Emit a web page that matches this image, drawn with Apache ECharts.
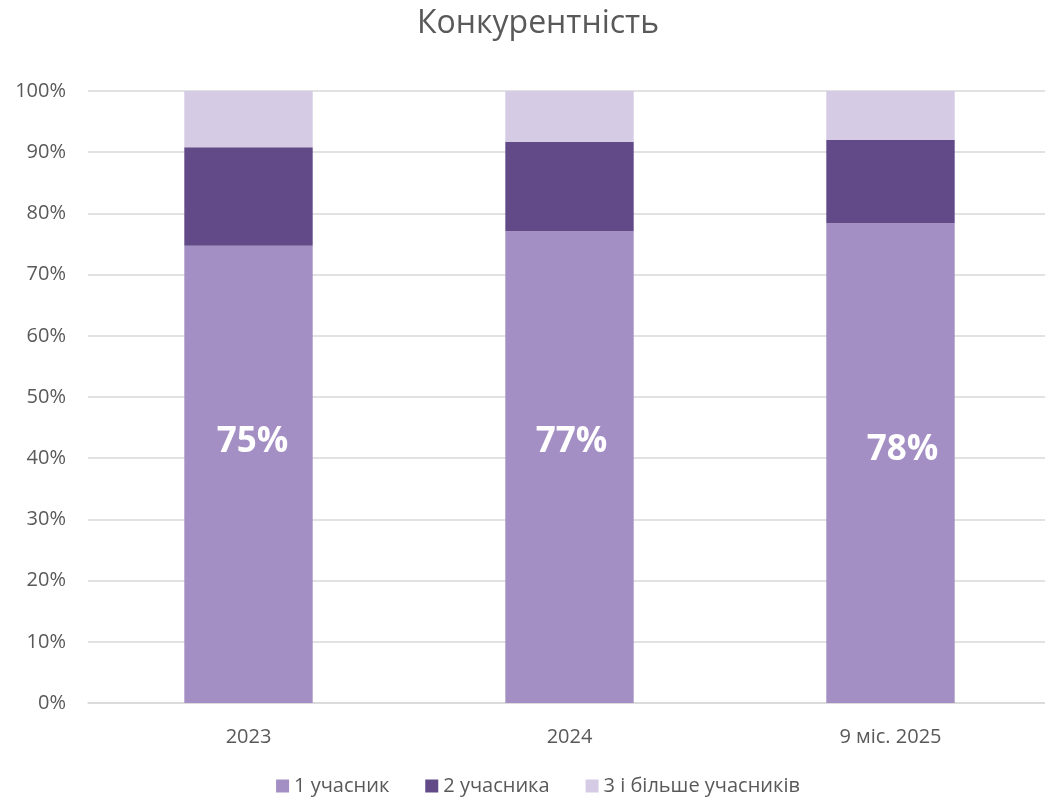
<!doctype html>
<html lang="uk">
<head>
    <meta charset="UTF-8">
    <title>Конкурентність</title>
    <style>
        html, body { margin: 0; padding: 0; background: #fff; overflow: hidden; }
        #chart { width: 1076px; height: 799px; }
    </style>
</head>
<body>
<div id="chart"></div>
<script src="https://cdn.jsdelivr.net/npm/echarts@6/dist/echarts.min.js"></script>
<script type="text/javascript">
    // дані
    var categories = ["2023", "2024", "9 міс. 2025"];
    var one_bidder = [74.7, 77.1, 78.4];
    var two_bidders = [16.1, 14.6, 13.6];
    var three_plus = [9.2, 8.3, 8.0];
    var one_labels = ["75%", "77%", "78%"];
    var series_names = ["1 учасник", "2 учасника", "3 і більше учасників"];

    var chart = echarts.init(document.getElementById('chart'));
    var font = "'Open Sans', 'Noto Sans', sans-serif";

    // зсуви підписів (як у оригіналі, не по центру)
    var label_nudge = [[4, -32], [2, -25], [12, -13]];

    var first_data = [];
    for (var i = 0; i < one_bidder.length; i++) {
        first_data.push({
            value: one_bidder[i],
            label: { offset: label_nudge[i], formatter: one_labels[i] }
        });
    }

    var option = {
        backgroundColor: '#fff',
        textStyle: { fontFamily: font },
        title: {
            text: 'Конкурентність',
            left: 'center',
            top: 3,
            textStyle: { fontFamily: font, fontSize: 32, fontWeight: 'normal', color: '#595959' }
        },
        legend: {
            data: series_names,
            top: 771,
            left: 'center',
            itemWidth: 13,
            itemHeight: 13,
            itemGap: 36,
            icon: 'rect',
            textStyle: { fontFamily: font, fontSize: 20, color: '#595959' }
        },
        grid: { left: 88, right: 25, top: 91, bottom: 96 },
        xAxis: {
            type: 'category',
            data: categories,
            axisTick: { show: false },
            axisLine: { lineStyle: { color: '#d9d9d9', width: 1.5 } },
            axisLabel: { fontFamily: font, fontSize: 20, color: '#595959', margin: 24 }
        },
        yAxis: {
            type: 'value',
            min: 0,
            max: 100,
            interval: 10,
            axisLine: { show: false },
            axisTick: { show: false },
            splitLine: { lineStyle: { color: '#d9d9d9', width: 1.5 } },
            axisLabel: { formatter: '{value}%', fontFamily: font, fontSize: 20, color: '#595959', margin: 22 }
        },
        series: [
            {
                name: series_names[0], type: 'bar', stack: 'total', barWidth: '40%',
                itemStyle: { color: '#a48fc4' },
                label: { show: true, position: 'inside', color: '#fff', fontSize: 35, fontWeight: 'bold', fontFamily: font },
                data: first_data
            },
            {
                name: series_names[1], type: 'bar', stack: 'total',
                itemStyle: { color: '#614a87' },
                data: two_bidders
            },
            {
                name: series_names[2], type: 'bar', stack: 'total',
                itemStyle: { color: '#d5cbe4' },
                data: three_plus
            }
        ]
    };
    chart.setOption(option);
</script>
</body>
</html>
